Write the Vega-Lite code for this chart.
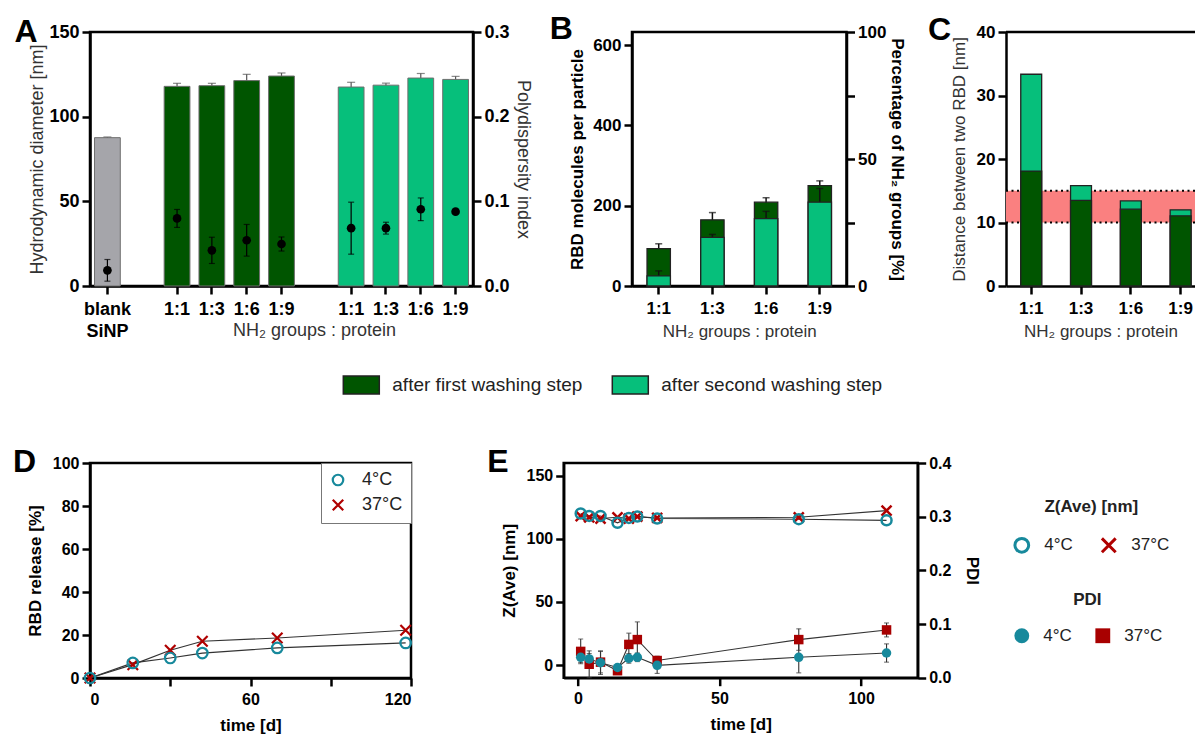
{
  "$schema": "https://vega.github.io/schema/vega-lite/v6.json",
  "background": "white",
  "padding": {"left": 11, "top": 11, "right": 0, "bottom": 0},
  "spacing": 45,
  "resolve": {"scale": {"color": "independent", "shape": "independent"}},
  "config": {
    "font": "Liberation Sans",
    "view": {"stroke": "#000", "strokeWidth": 2.5},
    "axis": {"domainColor": "#000", "domainWidth": 2.5, "tickColor": "#000", "tickWidth": 2.5, "tickSize": 8, "labelFontWeight": "bold", "labelColor": "#000", "grid": false, "labelPadding": 3, "titleColor": "#000", "labelFont": "Liberation Sans", "titleFont": "Liberation Sans"},
    "title": {"fontSize": 32, "fontWeight": "bold", "anchor": "start", "frame": "group", "offset": 0, "baseline": "alphabetic", "color": "#000", "font": "Liberation Sans"},
    "legend": {"labelFont": "Liberation Sans", "titleFont": "Liberation Sans", "labelColor": "#222", "titleColor": "#222", "labelLimit": 400}
  },
  "vconcat": [
    {
      "hconcat": [
        {
          "width": 383, "height": 254,
          "title": {"text": "A", "dx": -75.6, "dy": 30},
          "data": {"values": [
            {"key": "blank SiNP", "group": "blank", "diameter": 87.6, "diameter_sd": 0.4, "pdi": 0.0185, "pdi_sd": 0.0128},
            {"key": "1:1 a", "group": "first", "diameter": 117.9, "diameter_sd": 1.8, "pdi": 0.0798, "pdi_sd": 0.0106},
            {"key": "1:3 a", "group": "first", "diameter": 118.3, "diameter_sd": 1.4, "pdi": 0.0421, "pdi_sd": 0.0155},
            {"key": "1:6 a", "group": "first", "diameter": 121.3, "diameter_sd": 3.7, "pdi": 0.054, "pdi_sd": 0.0187},
            {"key": "1:9 a", "group": "first", "diameter": 124.0, "diameter_sd": 1.8, "pdi": 0.0496, "pdi_sd": 0.0083},
            {"key": "1:1 b", "group": "second", "diameter": 117.5, "diameter_sd": 2.8, "pdi": 0.0683, "pdi_sd": 0.0307},
            {"key": "1:3 b", "group": "second", "diameter": 118.6, "diameter_sd": 1.2, "pdi": 0.0683, "pdi_sd": 0.007},
            {"key": "1:6 b", "group": "second", "diameter": 122.8, "diameter_sd": 2.7, "pdi": 0.0906, "pdi_sd": 0.0134},
            {"key": "1:9 b", "group": "second", "diameter": 122.0, "diameter_sd": 1.8, "pdi": 0.0878, "pdi_sd": 0.002}
          ]},
          "encoding": {
            "x": {"field": "key", "type": "nominal", "sort": null,
              "scale": {"domain": ["blank SiNP", "gap 1", "1:1 a", "1:3 a", "1:6 a", "1:9 a", "gap 2", "1:1 b", "1:3 b", "1:6 b", "1:9 b"], "paddingInner": 0.26, "paddingOuter": 0.13},
              "axis": {"values": ["blank SiNP", "1:1 a", "1:3 a", "1:6 a", "1:9 a", "1:1 b", "1:3 b", "1:6 b", "1:9 b"],
                "labelExpr": "datum.value == 'blank SiNP' ? ['blank', 'SiNP'] : slice(datum.value, 0, 3)",
                "labelAngle": 0, "labelFontSize": 18, "labelLineHeight": 22, "labelPadding": 6,
                "title": "NH₂ groups : protein", "titleFontSize": 18, "titleFontWeight": "normal", "titleColor": "#333",
                "titleX": 224, "titleY": 35, "titleAlign": "center", "titleBaseline": "top"}}
          },
          "layer": [
            {"layer": [
              {"mark": {"type": "errorbar", "ticks": {"size": 8}, "color": "#555", "thickness": 1.2},
               "encoding": {"y": {"field": "diameter", "type": "quantitative", "scale": {"domain": [0, 150], "nice": false},
                 "axis": {"orient": "left", "values": [0, 50, 100, 150], "title": "Hydrodynamic diameter [nm]", "titleFontSize": 18, "titleFontWeight": "normal", "titleColor": "#333", "labelFontSize": 18, "titlePadding": 2}},
                 "yError": {"field": "diameter_sd"}}},
              {"mark": {"type": "bar", "stroke": "#6e6e6e", "strokeWidth": 1},
               "encoding": {"y": {"field": "diameter", "type": "quantitative", "stack": null, "scale": {"domain": [0, 150], "nice": false},
                 "axis": {"orient": "left", "values": [0, 50, 100, 150], "title": "Hydrodynamic diameter [nm]", "titleFontSize": 18, "titleFontWeight": "normal", "titleColor": "#333", "labelFontSize": 18, "titlePadding": 2}},
                 "color": {"field": "group", "type": "nominal", "scale": {"domain": ["blank", "first", "second"], "range": ["#a5a5aa", "#005500", "#06bf7b"]}, "legend": null}}}
            ]},
            {"layer": [
              {"mark": {"type": "errorbar", "ticks": {"size": 6}, "color": "#000", "thickness": 1.2},
               "encoding": {"y": {"field": "pdi", "type": "quantitative", "scale": {"domain": [0, 0.3], "nice": false},
                 "axis": {"orient": "right", "values": [0, 0.1, 0.2, 0.3], "format": ".1f", "title": "Polydispersity index", "titleFontSize": 18, "titleFontWeight": "normal", "titleColor": "#333", "labelFontSize": 18, "titlePadding": 4}},
                 "yError": {"field": "pdi_sd"}}},
              {"mark": {"type": "point", "filled": true, "color": "#000", "size": 75, "opacity": 1},
               "encoding": {"y": {"field": "pdi", "type": "quantitative", "scale": {"domain": [0, 0.3], "nice": false},
                 "axis": {"orient": "right", "values": [0, 0.1, 0.2, 0.3], "format": ".1f", "title": "Polydispersity index", "titleFontSize": 18, "titleFontWeight": "normal", "titleColor": "#333", "labelFontSize": 18, "titlePadding": 4}}}}
            ]}
          ],
          "resolve": {"scale": {"y": "independent"}}
        },
        {
          "width": 214.5, "height": 254,
          "title": {"text": "B", "dx": -82.3, "dy": 27},
          "data": {"values": [
            {"ratio": "1:1", "step": "after first washing step", "rbd": 93, "rbd_sd": 12.2},
            {"ratio": "1:1", "step": "after second washing step", "rbd": 25, "rbd_sd": 12.7},
            {"ratio": "1:3", "step": "after first washing step", "rbd": 165, "rbd_sd": 18},
            {"ratio": "1:3", "step": "after second washing step", "rbd": 121, "rbd_sd": 7.5},
            {"ratio": "1:6", "step": "after first washing step", "rbd": 209, "rbd_sd": 11},
            {"ratio": "1:6", "step": "after second washing step", "rbd": 168, "rbd_sd": 18},
            {"ratio": "1:9", "step": "after first washing step", "rbd": 250, "rbd_sd": 12},
            {"ratio": "1:9", "step": "after second washing step", "rbd": 209, "rbd_sd": 34}
          ]},
          "encoding": {
            "x": {"field": "ratio", "type": "nominal", "sort": null,
              "scale": {"paddingInner": 0.565, "paddingOuter": 0.28},
              "axis": {"labelAngle": 0, "labelFontSize": 17, "labelPadding": 6, "title": "NH₂ groups : protein", "titleFontSize": 17, "titleFontWeight": "normal", "titleColor": "#333", "titlePadding": 7}}
          },
          "layer": [
            {"layer": [
              {"transform": [{"filter": "datum.step == 'after first washing step'"}],
               "mark": {"type": "errorbar", "ticks": {"size": 7}, "color": "#111", "thickness": 1.5},
               "encoding": {"y": {"field": "rbd", "type": "quantitative", "scale": {"domain": [0, 633], "nice": false}, "title": "RBD molecules per particle",
                 "axis": {"orient": "left", "values": [0, 200, 400, 600], "title": "RBD molecules per particle", "titleFontSize": 17, "titleFontWeight": "bold", "labelFontSize": 17, "titlePadding": 6}},
                 "yError": {"field": "rbd_sd"}}},
              {"transform": [{"filter": "datum.step == 'after first washing step'"}],
               "mark": {"type": "bar", "stroke": "#222", "strokeWidth": 1.3},
               "encoding": {"y": {"field": "rbd", "type": "quantitative", "stack": null, "scale": {"domain": [0, 633], "nice": false}, "title": "RBD molecules per particle",
                 "axis": {"orient": "left", "values": [0, 200, 400, 600], "title": "RBD molecules per particle", "titleFontSize": 17, "titleFontWeight": "bold", "labelFontSize": 17, "titlePadding": 6}},
                 "color": {"field": "step", "type": "nominal", "scale": {"domain": ["after first washing step", "after second washing step"], "range": ["#005500", "#06bf7b"]},
                   "legend": {"orient": "none", "legendX": -281.7, "legendY": 342, "direction": "horizontal", "title": null, "symbolType": "M-1.8,-0.9H1.8V0.9H-1.8Z", "symbolSize": 400, "symbolStrokeColor": "#222", "symbolStrokeWidth": 1.5, "symbolOpacity": 1, "labelFontSize": 19, "labelColor": "#222", "labelOffset": 20, "columnPadding": 26, "labelLimit": 400}}}},
              {"transform": [{"filter": "datum.step == 'after second washing step'"}],
               "mark": {"type": "errorbar", "ticks": {"size": 7}, "color": "#111", "thickness": 1.5},
               "encoding": {"y": {"field": "rbd", "type": "quantitative", "scale": {"domain": [0, 633], "nice": false}, "title": "RBD molecules per particle"}, "yError": {"field": "rbd_sd"}}},
              {"transform": [{"filter": "datum.step == 'after second washing step'"}],
               "mark": {"type": "bar", "stroke": "#222", "strokeWidth": 1.3},
               "encoding": {"y": {"field": "rbd", "type": "quantitative", "stack": null, "scale": {"domain": [0, 633], "nice": false}, "title": "RBD molecules per particle"},
                 "color": {"field": "step", "type": "nominal", "scale": {"domain": ["after first washing step", "after second washing step"], "range": ["#005500", "#06bf7b"]}}}}
            ]},
            {"mark": {"type": "rule", "opacity": 0},
             "encoding": {"y": {"datum": 0, "type": "quantitative", "scale": {"domain": [0, 100], "nice": false},
               "axis": {"orient": "right", "values": [0, 25, 50, 75, 100], "labelExpr": "datum.value % 50 == 0 ? datum.label : ''", "title": "Percentage of NH₂ groups [%]", "titleFontSize": 17, "titleFontWeight": "bold", "labelFontSize": 17, "titlePadding": 2}}}}
          ],
          "resolve": {"scale": {"y": "independent"}}
        },
        {
          "width": 189, "height": 254,
          "view": {"stroke": null},
          "title": {"text": "C", "dx": -78, "dy": 28},
          "data": {"values": [
            {"ratio": "1:1", "step": "first", "distance": 18.1},
            {"ratio": "1:1", "step": "second", "distance": 33.35},
            {"ratio": "1:3", "step": "first", "distance": 13.5},
            {"ratio": "1:3", "step": "second", "distance": 15.8},
            {"ratio": "1:6", "step": "first", "distance": 12.1},
            {"ratio": "1:6", "step": "second", "distance": 13.4},
            {"ratio": "1:9", "step": "first", "distance": 11.05},
            {"ratio": "1:9", "step": "second", "distance": 12.0}
          ]},
          "layer": [
            {"data": {"values": [{"lower": 10, "upper": 15}]},
             "mark": {"type": "rect", "color": "#fa8080"},
             "encoding": {"x": {"value": 0}, "x2": {"value": "width"},
               "y": {"field": "lower", "type": "quantitative", "scale": {"domain": [0, 40], "nice": false}, "title": "Distance between two RBD [nm]"}, "y2": {"field": "upper"}}},
            {"data": {"values": [{"lower": 10, "upper": 15}]},
             "mark": {"type": "rule", "color": "#000", "strokeWidth": 2, "strokeDash": [2, 3.5]},
             "encoding": {"y": {"field": "lower", "type": "quantitative", "title": "Distance between two RBD [nm]"}}},
            {"data": {"values": [{"lower": 10, "upper": 15}]},
             "mark": {"type": "rule", "color": "#000", "strokeWidth": 2, "strokeDash": [2, 3.5]},
             "encoding": {"y": {"field": "upper", "type": "quantitative", "title": "Distance between two RBD [nm]"}}},
            {"data": {"values": [{"axis_max": 40}]},
             "mark": {"type": "rule", "color": "#000", "strokeWidth": 2.5},
             "encoding": {"y": {"field": "axis_max", "type": "quantitative", "title": "Distance between two RBD [nm]"}}},
            {"transform": [{"filter": "datum.step == 'second'"}],
             "mark": {"type": "bar", "stroke": "#222", "strokeWidth": 1.3, "color": "#06bf7b"},
             "encoding": {"x": {"field": "ratio", "type": "nominal", "sort": null,
                 "scale": {"domain": ["1:1", "1:3", "1:6", "1:9"], "paddingInner": 0.58, "paddingOuter": 0.1875, "align": 0.79},
                 "axis": {"labelAngle": 0, "labelFontSize": 17, "labelPadding": 6, "title": "NH₂ groups : protein", "titleFontSize": 17, "titleFontWeight": "normal", "titleColor": "#333", "titlePadding": 7}},
               "y": {"field": "distance", "type": "quantitative", "stack": null, "scale": {"domain": [0, 40], "nice": false},
                 "axis": {"values": [0, 10, 20, 30, 40], "title": "Distance between two RBD [nm]", "titleFontSize": 17, "titleFontWeight": "normal", "titleColor": "#333", "labelFontSize": 17, "titlePadding": 8}}}},
            {"transform": [{"filter": "datum.step == 'first'"}],
             "mark": {"type": "bar", "stroke": "#222", "strokeWidth": 1.3, "color": "#005500"},
             "encoding": {"x": {"field": "ratio", "type": "nominal", "sort": null},
               "y": {"field": "distance", "type": "quantitative", "stack": null, "title": "Distance between two RBD [nm]"}}}
          ]
        }
      ],
      "spacing": 159,
      "bounds": "flush",
      "resolve": {"scale": {"color": "independent", "shape": "independent"}}
    },
    {
      "hconcat": [
        {
          "width": 321, "height": 215,
          "title": {"text": "D", "dx": -77, "dy": 28},
          "data": {"values": [
            {"day": 0, "temp": "37°C", "release": 0},
            {"day": 16, "temp": "37°C", "release": 6.2},
            {"day": 30, "temp": "37°C", "release": 12.9},
            {"day": 42, "temp": "37°C", "release": 17.1},
            {"day": 70, "temp": "37°C", "release": 18.6},
            {"day": 118, "temp": "37°C", "release": 22.2},
            {"day": 0, "temp": "4°C", "release": 0},
            {"day": 16, "temp": "4°C", "release": 7.0},
            {"day": 30, "temp": "4°C", "release": 9.3},
            {"day": 42, "temp": "4°C", "release": 11.6},
            {"day": 70, "temp": "4°C", "release": 14.0},
            {"day": 118, "temp": "4°C", "release": 16.3}
          ]},
          "encoding": {
            "x": {"field": "day", "type": "quantitative", "scale": {"domain": [0, 120], "nice": false},
              "axis": {"values": [0, 30, 60, 90, 120], "labelExpr": "datum.value % 60 == 0 ? datum.label : ''", "labelFontSize": 16, "labelPadding": 5, "title": "time [d]", "titleFontSize": 17, "titleFontWeight": "bold", "titlePadding": 10}},
            "y": {"field": "release", "type": "quantitative", "scale": {"domain": [0, 100], "nice": false},
              "axis": {"values": [0, 20, 40, 60, 80, 100], "labelFontSize": 16, "title": "RBD release [%]", "titleFontSize": 17, "titleFontWeight": "bold", "titlePadding": 8}}
          },
          "layer": [
            {"mark": {"type": "line", "color": "#333", "strokeWidth": 1.2},
             "encoding": {"detail": {"field": "temp"}}},
            {"mark": {"type": "point", "filled": false, "strokeWidth": 2.2, "size": 110, "opacity": 1},
             "encoding": {
               "shape": {"field": "temp", "type": "nominal", "scale": {"domain": ["4°C", "37°C"], "range": ["circle", "M-1,-1L1,1M1,-1L-1,1"]},
                 "legend": {"orient": "top-right", "offset": 0, "title": null, "padding": 8, "strokeColor": "#777", "fillColor": "white", "labelFontSize": 18, "symbolSize": 110, "symbolStrokeWidth": 2.2, "labelOffset": 15, "rowPadding": 5}},
               "color": {"field": "temp", "type": "nominal", "scale": {"domain": ["4°C", "37°C"], "range": ["#17899c", "#b00000"]},
                 "legend": {"orient": "top-right", "offset": 0, "title": null, "padding": 8, "strokeColor": "#777", "fillColor": "white", "labelFontSize": 18, "symbolSize": 110, "symbolStrokeWidth": 2.2, "labelOffset": 15, "rowPadding": 5}}}}
          ]
        },
        {
          "width": 354, "height": 214.7,
          "title": {"text": "E", "dx": -76.5, "dy": 28},
          "data": {"values": [
            {"day": 1, "temp": "37°C", "z": 118, "pdi": 0.049, "pdi_sd": 0.023},
            {"day": 4, "temp": "37°C", "z": 117, "pdi": 0.025, "pdi_sd": 0.025},
            {"day": 8, "temp": "37°C", "z": 116, "pdi": 0.029, "pdi_sd": 0.02},
            {"day": 14, "temp": "37°C", "z": 117, "pdi": 0.013, "pdi_sd": 0.005},
            {"day": 18, "temp": "37°C", "z": 116, "pdi": 0.062, "pdi_sd": 0.021},
            {"day": 21, "temp": "37°C", "z": 117.5, "pdi": 0.071, "pdi_sd": 0.033},
            {"day": 28, "temp": "37°C", "z": 116.5, "pdi": 0.032, "pdi_sd": 0.008},
            {"day": 78, "temp": "37°C", "z": 117, "pdi": 0.071, "pdi_sd": 0.02},
            {"day": 109, "temp": "37°C", "z": 122.3, "pdi": 0.089, "pdi_sd": 0.013},
            {"day": 1, "temp": "4°C", "z": 120, "pdi": 0.038, "pdi_sd": 0.01},
            {"day": 4, "temp": "4°C", "z": 118.1, "pdi": 0.035, "pdi_sd": 0.01},
            {"day": 8, "temp": "4°C", "z": 118, "pdi": 0.028, "pdi_sd": 0.022},
            {"day": 14, "temp": "4°C", "z": 112.6, "pdi": 0.019, "pdi_sd": 0.005},
            {"day": 18, "temp": "4°C", "z": 116.5, "pdi": 0.036, "pdi_sd": 0.009},
            {"day": 21, "temp": "4°C", "z": 117.6, "pdi": 0.038, "pdi_sd": 0.008},
            {"day": 28, "temp": "4°C", "z": 116, "pdi": 0.023, "pdi_sd": 0.015},
            {"day": 78, "temp": "4°C", "z": 115.5, "pdi": 0.038, "pdi_sd": 0.029},
            {"day": 109, "temp": "4°C", "z": 114.6, "pdi": 0.046, "pdi_sd": 0.017}
          ]},
          "encoding": {
            "x": {"field": "day", "type": "quantitative", "scale": {"domain": [-5, 120], "nice": false},
              "axis": {"values": [0, 50, 100], "labelFontSize": 16, "labelPadding": 5, "title": "time [d]", "titleFontSize": 17, "titleFontWeight": "bold", "titlePadding": 10}}
          },
          "layer": [
            {"layer": [
              {"mark": {"type": "line", "color": "#333", "strokeWidth": 1.1},
               "encoding": {"y": {"field": "z", "type": "quantitative", "scale": {"domain": [-10, 160], "nice": false}, "title": "Z(Ave) [nm]",
                 "axis": {"orient": "left", "values": [0, 50, 100, 150], "labelFontSize": 16, "title": "Z(Ave) [nm]", "titleFontSize": 17, "titleFontWeight": "bold", "titlePadding": 8}},
                 "detail": {"field": "temp"}}},
              {"mark": {"type": "point", "filled": false, "strokeWidth": 2.5, "size": 100, "opacity": 1},
               "encoding": {"y": {"field": "z", "type": "quantitative", "scale": {"domain": [-10, 160], "nice": false}, "title": "Z(Ave) [nm]",
                 "axis": {"orient": "left", "values": [0, 50, 100, 150], "labelFontSize": 16, "title": "Z(Ave) [nm]", "titleFontSize": 17, "titleFontWeight": "bold", "titlePadding": 8}},
                 "shape": {"field": "temp", "type": "nominal", "scale": {"domain": ["4°C", "37°C"], "range": ["circle", "M-1,-1L1,1M1,-1L-1,1"]},
                   "legend": {"orient": "none", "legendX": 449.6, "legendY": 35.5, "direction": "horizontal", "title": "Z(Ave) [nm]", "titleFontSize": 17, "titleFontWeight": "bold", "titleAnchor": "middle", "titlePadding": 21, "labelFontSize": 17, "symbolSize": 190, "symbolStrokeWidth": 3, "labelOffset": 14, "columnPadding": 22}},
                 "color": {"field": "temp", "type": "nominal", "scale": {"domain": ["4°C", "37°C"], "range": ["#17899c", "#b00000"]},
                   "legend": {"orient": "none", "legendX": 449.6, "legendY": 35.5, "direction": "horizontal", "title": "Z(Ave) [nm]", "titleFontSize": 17, "titleFontWeight": "bold", "titleAnchor": "middle", "titlePadding": 21, "labelFontSize": 17, "symbolSize": 190, "symbolStrokeWidth": 3, "labelOffset": 14, "columnPadding": 22}}}}
            ]},
            {"layer": [
              {"mark": {"type": "line", "color": "#333", "strokeWidth": 1.1},
               "encoding": {"y": {"field": "pdi", "type": "quantitative", "scale": {"domain": [0, 0.4], "nice": false}, "title": "PDI",
                 "axis": {"orient": "right", "values": [0, 0.1, 0.2, 0.3, 0.4], "format": ".1f", "labelFontSize": 16, "title": "PDI", "titleFontSize": 17, "titleFontWeight": "bold", "titlePadding": 12}},
                 "detail": {"field": "temp"}}},
              {"mark": {"type": "errorbar", "ticks": {"size": 5}, "color": "#333", "thickness": 1.1},
               "encoding": {"y": {"field": "pdi", "type": "quantitative", "scale": {"domain": [0, 0.4], "nice": false}, "title": "PDI"}, "yError": {"field": "pdi_sd"}}},
              {"mark": {"type": "point", "filled": true, "size": 90, "opacity": 1},
               "encoding": {"y": {"field": "pdi", "type": "quantitative", "scale": {"domain": [0, 0.4], "nice": false}, "title": "PDI"},
                 "shape": {"field": "temp", "type": "nominal", "scale": {"domain": ["4°C", "37°C"], "range": ["circle", "square"]},
                   "legend": {"orient": "none", "legendX": 449.6, "legendY": 129, "direction": "horizontal", "title": "PDI", "titleFontSize": 17, "titleFontWeight": "bold", "titleAnchor": "middle", "titlePadding": 18, "labelFontSize": 17, "symbolSize": 220, "labelOffset": 13, "columnPadding": 22}},
                 "color": {"field": "temp", "type": "nominal", "scale": {"domain": ["4°C", "37°C"], "range": ["#17899c", "#a80000"]},
                   "legend": {"orient": "none", "legendX": 449.6, "legendY": 129, "direction": "horizontal", "title": "PDI", "titleFontSize": 17, "titleFontWeight": "bold", "titleAnchor": "middle", "titlePadding": 18, "labelFontSize": 17, "symbolSize": 220, "labelOffset": 13, "columnPadding": 22}}}}
            ]}
          ],
          "resolve": {"scale": {"y": "independent", "color": "independent", "shape": "independent"}}
        }
      ],
      "spacing": 152.7,
      "bounds": "flush",
      "resolve": {"scale": {"color": "independent", "shape": "independent"}}
    }
  ]
}
